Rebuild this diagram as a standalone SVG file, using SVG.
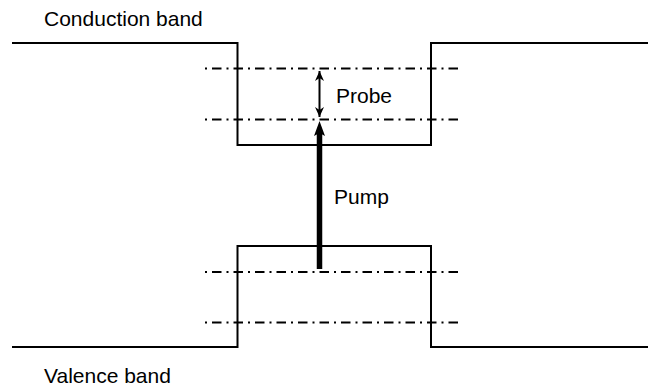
<svg xmlns="http://www.w3.org/2000/svg" width="648" height="390" viewBox="0 0 648 390">
<style>
.band{fill:none;stroke:#000;stroke-width:2}
.level{fill:none;stroke:#000;stroke-width:2;stroke-dasharray:2 5 9.5 5}
.lbl{font-family:"Liberation Sans",Arial,sans-serif;font-size:21px;fill:#000}
</style>
<defs>
<marker id="ah" viewBox="0 0 10 10" refX="10" refY="5" markerWidth="10" markerHeight="10" markerUnits="userSpaceOnUse" orient="auto-start-reverse"><path d="M0,0.5 L10,5 L0,9.5 L3,5 Z" fill="#000"/></marker>
</defs>
<g id="conduction-band">
<path class="band" d="M12,43 H237.5 V145 H431 V43 H648"/>
<line class="level" x1="205" y1="68.5" x2="463" y2="68.5"/>
<line class="level" x1="205" y1="119.5" x2="463" y2="119.5"/>
<text class="lbl" x="44" y="26">Conduction band</text>
</g>
<g id="valence-band">
<path class="band" d="M12,347 H237.5 V246 H431 V347 H648"/>
<line class="level" x1="205" y1="272" x2="463" y2="272"/>
<line class="level" x1="205" y1="322.5" x2="463" y2="322.5"/>
<text class="lbl" x="44" y="383">Valence band</text>
</g>
<g id="connectors">
<line x1="319.5" y1="71" x2="319.5" y2="117" stroke="#000" stroke-width="2" marker-start="url(#ah)" marker-end="url(#ah)"/>
<line x1="319.5" y1="269" x2="319.5" y2="132" stroke="#000" stroke-width="5.5"/>
<path d="M319.5,121 L325,136 L319.5,133 L314,136 Z" fill="#000"/>
</g>
<g id="labels">
<text class="lbl" x="336" y="103">Probe</text>
<text class="lbl" x="334" y="204">Pump</text>
</g>
</svg>
